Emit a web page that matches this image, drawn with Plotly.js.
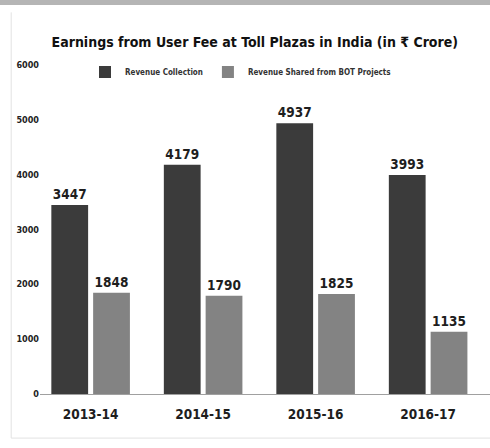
<!DOCTYPE html>
<html>
<head>
<meta charset="utf-8">
<script src="https://cdn.plot.ly/plotly-3.0.1.min.js"></script>
<style>
    html, body { margin: 0; padding: 0; background: #fff; }
    #tollChart { width: 490px; height: 448px; }
</style>
</head>
<body>
<div id="tollChart"></div>
<script>
// Dati (in ₹ crore)
const years = ["2013-14", "2014-15", "2015-16", "2016-17"];
const revenueCollection = [3447, 4179, 4937, 3993];
const revenueShared = [1848, 1790, 1825, 1135];
const yTicks = [0, 1000, 2000, 3000, 4000, 5000, 6000];

const narrowFont = "'DejaVu Sans Condensed', 'Liberation Sans Narrow', 'Liberation Sans', sans-serif";

function boldFont(size, color) {
    return { family: narrowFont, size: size, color: color, weight: "bold" };
}

function makeTrace(name, values, color) {
    return {
        type: "bar",
        name: name,
        x: years,
        y: values,
        marker: { color: color },
        text: values.map(v => String(v)),
        textposition: "outside",
        cliponaxis: false,
        textfont: boldFont(13.5, "#1e1e1e"),
        hoverinfo: "x+y"
    };
}

const traces = [
    makeTrace("Revenue Collection", revenueCollection, "#3b3b3b"),
    makeTrace("Revenue Shared from BOT Projects", revenueShared, "#838383")
];

const layout = {
    width: 490,
    height: 448,
    paper_bgcolor: "#ffffff",
    plot_bgcolor: "#ffffff",
    margin: { l: 40, r: 0, t: 65, b: 54 },
    font: { family: narrowFont, color: "#222" },
    title: {
        text: "<b>Earnings from User Fee at Toll Plazas in India (in ₹ Crore)</b>",
        font: boldFont(14, "#111"),
        x: 0.52,
        xanchor: "center",
        y: 0.906,
        yanchor: "middle"
    },
    barmode: "group",
    bargap: 0.257,
    bargroupgap: 0.12,
    showlegend: true,
    legend: {
        orientation: "h",
        x: 0.1,
        xanchor: "left",
        y: 0.979,
        yanchor: "middle",
        font: boldFont(8, "#333"),
        itemwidth: 30,
        bgcolor: "rgba(0,0,0,0)"
    },
    xaxis: {
        type: "category",
        range: [-0.45, 3.55],
        showgrid: false,
        showline: false,
        ticks: "",
        tickfont: boldFont(13.5, "#1e1e1e"),
        ticklabelstandoff: 10
    },
    yaxis: {
        range: [0, 6000],
        tickvals: yTicks,
        showgrid: false,
        showline: false,
        zeroline: true,
        zerolinecolor: "#a0a0a0",
        zerolinewidth: 1,
        ticks: "",
        tickfont: boldFont(9, "#222")
    },
    shapes: [
        {
            type: "rect", xref: "paper", yref: "paper",
            x0: -0.1, x1: 1.01, y0: 1.182, y1: 1.2,
            fillcolor: "#b5b5b5", line: { width: 0 }
        },
        {
            type: "line", xref: "paper", yref: "paper",
            x0: -0.064, x1: -0.064, y0: -0.134, y1: 1.16,
            line: { color: "#e2e2e2", width: 1 }
        },
        {
            type: "line", xref: "paper", yref: "paper",
            x0: -0.064, x1: 1.0, y0: -0.134, y1: -0.134,
            line: { color: "#e2e2e2", width: 1 }
        }
    ]
};

Plotly.newPlot("tollChart", traces, layout, { staticPlot: true, displayModeBar: false });
</script>
</body>
</html>
